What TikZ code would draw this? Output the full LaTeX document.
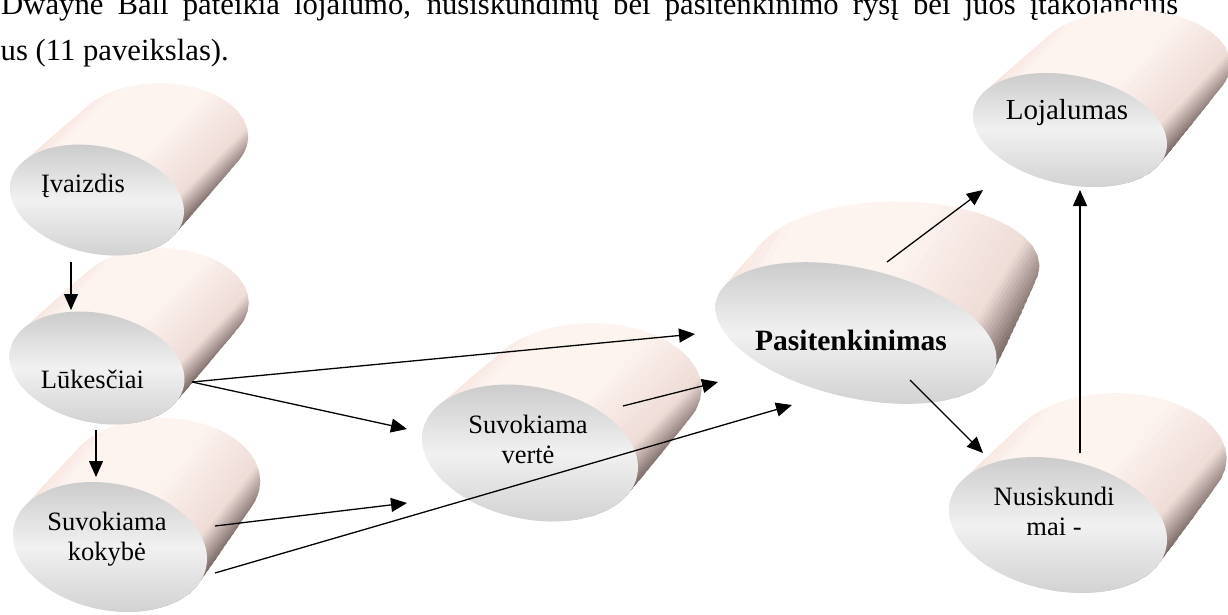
\documentclass[tikz,border=0pt]{standalone}
\usepackage{fontspec}
\setmainfont{Liberation Serif}
\usetikzlibrary{arrows.meta}

\definecolor{bodyA}{RGB}{246,228,222}
\definecolor{bodyB}{RGB}{253,243,239}
\definecolor{bodyC}{RGB}{238,220,215}
\definecolor{bodyD}{RGB}{118,102,98}
\definecolor{faceT}{RGB}{204,204,204}
\definecolor{faceM}{RGB}{241,241,241}
\definecolor{faceB}{RGB}{210,210,210}

% one band of the body gradient, laid across the drum axis
\newcommand\bodyband[5]{%
  \foreach \ki in {1,...,#3}{%
    \pgfmathsetmacro\pa{-\Hw+2*\Hw*(#1+(#2-#1)*(\ki-1)/#3)}%
    \pgfmathsetmacro\pb{-\Hw+2*\Hw*(#1+(#2-#1)*\ki/#3)+0.8}%
    \pgfmathtruncatemacro\pc{100*(\ki-0.5)/#3}%
    \fill[fill=#5!\pc!#4]
      ({\Cx+\pa*\Nx-150*\Mx},{\Cy+\pa*\Ny-150*\My}) --
      ({\Cx+\pb*\Nx-150*\Mx},{\Cy+\pb*\Ny-150*\My}) --
      ({\Cx+\pb*\Nx+300*\Mx},{\Cy+\pb*\Ny+300*\My}) --
      ({\Cx+\pa*\Nx+300*\Mx},{\Cy+\pa*\Ny+300*\My}) -- cycle;
  }%
}

% extruded elliptic drum: #1,#2 face centre, #3,#4 half axes, #5 face tilt,
% #6,#7 extrusion vector, #8 tilt of the far rim
\newcommand\drum[8]{%
  \pgfmathsetmacro\Cx{#1}\pgfmathsetmacro\Cy{#2}%
  \pgfmathsetmacro\Vl{10*sqrt((#6/10)*(#6/10)+(#7/10)*(#7/10))}%
  \pgfmathsetmacro\Mx{(#6)/\Vl}\pgfmathsetmacro\My{(#7)/\Vl}%
  \pgfmathsetmacro\Nx{-\My}\pgfmathsetmacro\Ny{\Mx}%
  \pgfmathsetmacro\ua{#3*(\Nx*cos(#5)+\Ny*sin(#5))/10}%
  \pgfmathsetmacro\ub{#4*(-\Nx*sin(#5)+\Ny*cos(#5))/10}%
  \pgfmathsetmacro\Hf{10*sqrt(\ua*\ua+\ub*\ub)}%
  \pgfmathsetmacro\ua{#3*(\Nx*cos(#8)+\Ny*sin(#8))/10}%
  \pgfmathsetmacro\ub{#4*(-\Nx*sin(#8)+\Ny*cos(#8))/10}%
  \pgfmathsetmacro\Hb{10*sqrt(\ua*\ua+\ub*\ub)}%
  \pgfmathsetmacro\Hw{max(\Hf,\Hb)}%
  \begin{scope}
    \clip \foreach \ki in {0,1,...,16}{
      plot[domain=0:360, samples=40, variable=\q]
      ({\Cx+\ki/16*(#6)+#3*cos(\q)*cos(#5+\ki/16*(#8-#5))-#4*sin(\q)*sin(#5+\ki/16*(#8-#5))},
       {\Cy+\ki/16*(#7)+#3*cos(\q)*sin(#5+\ki/16*(#8-#5))+#4*sin(\q)*cos(#5+\ki/16*(#8-#5))})
    };
    \bodyband{0}{0.1}{4}{bodyA}{bodyB}
    \bodyband{0.1}{0.5}{1}{bodyB}{bodyB}
    \bodyband{0.5}{0.85}{10}{bodyB}{bodyC}
    \bodyband{0.85}{1}{12}{bodyC}{bodyD}
  \end{scope}
  \shade[top color=faceT, bottom color=faceB, middle color=faceM]
    plot[domain=0:360, samples=90, variable=\q]
    ({\Cx+#3*cos(\q)*cos(#5)-#4*sin(\q)*sin(#5)},
     {\Cy+#3*cos(\q)*sin(#5)+#4*sin(\q)*cos(#5)}) -- cycle;
}

\tikzset{
  lbl/.style={font=\fontsize{26.5}{30.5}\selectfont, inner sep=0pt, anchor=base},
  hdr/.style={font=\fontsize{30.7}{36}\selectfont, inner sep=0pt, anchor=base west},
  arr/.style={line width=1.3pt, -{Triangle[length=16pt,width=14pt]}}
}

\begin{document}
\begin{tikzpicture}[x=1pt,y=-1pt]
\useasboundingbox (0,0) rectangle (1228,615);

% running text above the figure
\node[hdr] (hdrA) at (1,15) {\makebox[1177pt][s]{Dwayne Ball pateikia lojalumo, nusiskundimų bei pasitenkinimo ryšį bei juos įtakojančius}};
\node[hdr] (hdrB) at (0.5,61) {us (11 paveikslas).};

% drums, back to front
\drum{1070}{130}{98.5}{54.4}{12}{62}{-65.6}{0}
\drum{856}{333}{143.5}{64.7}{13}{40}{-67}{0}
\drum{1058}{525}{110.6}{65.4}{12}{58}{-66.6}{0}
\drum{530}{453}{109.5}{66}{12}{62}{-64}{0}
\drum{110}{547}{98.3}{63.1}{12}{52}{-66}{0}
\drum{97}{368}{88.7}{54.6}{12}{63}{-65.4}{0}
\drum{97}{200}{88.2}{53.5}{12}{63}{-63.5}{0}

% labels on the faces
\node[lbl] (img) at (83,192) {Įvaizdis};
\node[lbl] (luk) at (92.5,388) {Lūkesčiai};
\node[lbl] (kok) at (107,530) {\begin{tabular}[t]{@{}c@{}}Suvokiama\\kokybė\end{tabular}};
\node[lbl] (ver) at (528,433) {\begin{tabular}[t]{@{}c@{}}Suvokiama\\vertė\end{tabular}};
\node[lbl, font=\fontsize{29.5}{34}\selectfont\bfseries] (pas) at (851,350) {Pasitenkinimas};
\node[lbl, font=\fontsize{29}{33}\selectfont] (loj) at (1067,120) {Lojalumas};
\node[lbl] (nus) at (1054,505) {\begin{tabular}[t]{@{}c@{}}Nusiskundi\\mai -\end{tabular}};

% arrow ends
\coordinate (imgOut) at (71,262);
\coordinate (lukIn)  at (71,310);
\coordinate (lukOut) at (96,430);
\coordinate (kokIn)  at (96,477);
\coordinate (lukR)   at (192,382);
\coordinate (pasInA) at (695,334);
\coordinate (verInA) at (407,429);
\coordinate (kokR)   at (215,526);
\coordinate (verInB) at (407,503);
\coordinate (kokRB)  at (215,573);
\coordinate (pasInC) at (792,405);
\coordinate (verOut) at (623,406);
\coordinate (pasInB) at (718,382);
\coordinate (pasOutA) at (887,262);
\coordinate (lojInA) at (983,190);
\coordinate (pasOutB) at (910,380);
\coordinate (nusIn)  at (983,453);
\coordinate (nusOut) at (1080,453);
\coordinate (lojInB) at (1080,190);

\draw[arr] (imgOut) -- (lukIn);
\draw[arr] (lukOut) -- (kokIn);
\draw[arr] (lukR) -- (pasInA);
\draw[arr] (lukR) -- (verInA);
\draw[arr] (kokR) -- (verInB);
\draw[arr] (kokRB) -- (pasInC);
\draw[arr] (verOut) -- (pasInB);
\draw[arr] (pasOutA) -- (lojInA);
\draw[arr] (pasOutB) -- (nusIn);
\draw[arr] (nusOut) -- (lojInB);
\end{tikzpicture}
\end{document}
